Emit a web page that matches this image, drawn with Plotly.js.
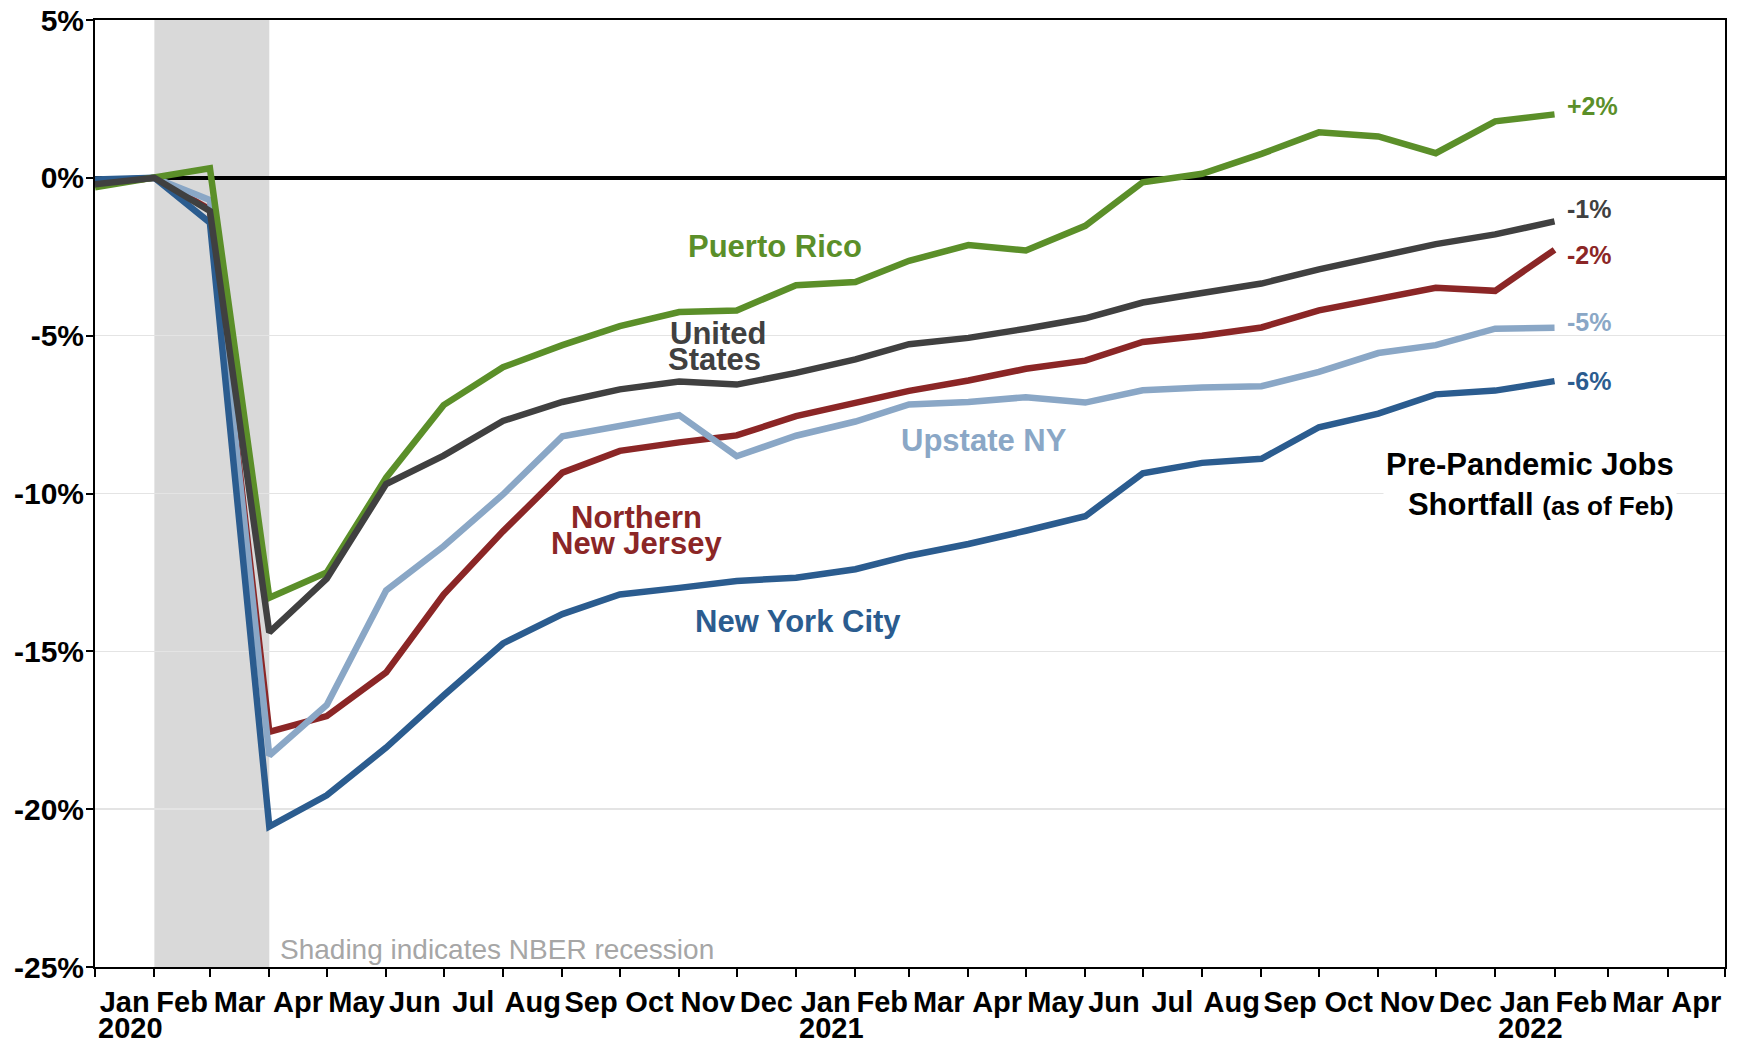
<!DOCTYPE html>
<html><head><meta charset="utf-8">
<script src="https://cdn.plot.ly/plotly-3.0.1.min.js"></script>
<style>html,body{margin:0;padding:0;background:#fff;} #chart{width:1739px;height:1043px;}</style>
</head><body><div id="chart"></div>
<script>
const months = ['2020-01-01','2020-02-01','2020-03-01','2020-04-01','2020-05-01','2020-06-01','2020-07-01','2020-08-01','2020-09-01','2020-10-01','2020-11-01','2020-12-01',
  '2021-01-01','2021-02-01','2021-03-01','2021-04-01','2021-05-01','2021-06-01','2021-07-01','2021-08-01','2021-09-01','2021-10-01','2021-11-01','2021-12-01',
  '2022-01-01','2022-02-01'];
const puertoRico   = [-0.3, 0, 0.3, -13.3, -12.5, -9.5, -7.2, -6.0, -5.3, -4.7, -4.25, -4.2, -3.4, -3.3, -2.63, -2.13, -2.3, -1.52, -0.14, 0.13, 0.76, 1.44, 1.31, 0.78, 1.79, 2.01];
const unitedStates = [-0.2, 0, -1.05, -14.4, -12.7, -9.7, -8.8, -7.7, -7.1, -6.7, -6.45, -6.55, -6.18, -5.75, -5.27, -5.07, -4.78, -4.45, -3.95, -3.63, -3.35, -2.9, -2.47, -2.1, -1.79, -1.38];
const northernNJ   = [-0.2, 0, -1.0, -17.55, -17.05, -15.67, -13.2, -11.2, -9.34, -8.65, -8.38, -8.16, -7.55, -7.12, -6.75, -6.42, -6.05, -5.79, -5.2, -5.0, -4.74, -4.2, -3.83, -3.48, -3.58, -2.28];
const upstateNY    = [-0.1, 0, -0.7, -18.3, -16.7, -13.07, -11.67, -10.03, -8.19, -7.84, -7.52, -8.82, -8.17, -7.72, -7.18, -7.1, -6.95, -7.12, -6.73, -6.64, -6.6, -6.15, -5.55, -5.3, -4.78, -4.75];
const newYorkCity  = [-0.05, 0, -1.42, -20.55, -19.56, -18.05, -16.4, -14.75, -13.82, -13.2, -12.99, -12.77, -12.67, -12.4, -11.97, -11.6, -11.18, -10.72, -9.36, -9.03, -8.9, -7.9, -7.47, -6.86, -6.74, -6.44];

const seriesNames = ['Northern New Jersey','Upstate NY','New York City','Puerto Rico','United States'];
const endLabels = ['-2%','-5%','-6%','+2%','-1%'];
const yTickVals = [-25,-20,-15,-10,-5,0,5];
const yTickText = ['-25%','-20%','-15%','-10%','-5%','0%','5%'];
const yearLabels = ['2020','2021','2022'];
const yearPositions = ['2020-01-16','2021-01-16','2022-01-16'];
const recession = ['2020-02-01','2020-04-01'];

const C = {green:'#5b8f29', gray:'#404040', red:'#8b2626', lblue:'#8aa7c6', blue:'#2b5c8f'};
const FONT = 'Liberation Sans, Arial, sans-serif';

function mdate(idx){
  const m = Math.floor(idx), f = idx - m;
  const s = Date.UTC(2020, m, 1), e = Date.UTC(2020, m+1, 1);
  return new Date(s + f*(e-s)).toISOString().slice(0,19).replace('T',' ');
}

const seriesVals = [northernNJ, upstateNY, newYorkCity, puertoRico, unitedStates];
const seriesCols = [C.red, C.lblue, C.blue, C.green, C.gray];
const traces = seriesVals.map((v,i)=>({
  type:'scatter', mode:'lines', x:months, y:v, name:seriesNames[i],
  line:{color:seriesCols[i], width:6.5}, hoverinfo:'x+y+name'
}));

function lab(text, idx, y, color, size, extra){
  return Object.assign({x:mdate(idx), y:y, xref:'x', yref:'y', text:text, showarrow:false,
    xanchor:'center', yanchor:'middle', font:{family:FONT, size:size, color:color, weight:'bold'}}, extra||{});
}

const endY = [-2.46, -4.57, -6.43, 2.28, -0.98];
const annotations = [
  lab('Puerto Rico', 11.65, -2.18, C.green, 31),
  lab('United', 10.67, -4.92, C.gray, 31),
  lab('States', 10.62, -5.76, C.gray, 31),
  lab('Northern', 9.28, -10.75, C.red, 31),
  lab('New Jersey', 9.28, -11.59, C.red, 31),
  lab('Upstate NY', 15.27, -8.32, C.lblue, 31),
  lab('New York City', 12.03, -14.05, C.blue, 31),
  lab('Pre-Pandemic Jobs<br>Shortfall <span style="font-size:26px">(as of Feb)</span>', 27.17, -9.72, '#000', 31,
      {xanchor:'right', align:'right', bgcolor:'#ffffff', borderpad:2}),
  lab('Shading indicates NBER recession', 3.16, -24.45, '#a6a6a6', 28, {xanchor:'left'})
];
annotations[annotations.length-1].font.weight = 'normal';
endLabels.forEach((t,i)=>annotations.push(lab(t, 25.2, endY[i], seriesCols[i], 25, {xanchor:'left'})));
yearLabels.forEach((t,i)=>annotations.push({x:yearPositions[i], xref:'x', y:0, yref:'paper', yanchor:'middle', yshift:-61, xshift:7,
  text:t, showarrow:false, font:{family:FONT, size:29, color:'#000', weight:'bold'}}));

const layout = {
  width:1739, height:1043,
  margin:{l:95, r:14, t:20, b:76, pad:0},
  paper_bgcolor:'#fff', plot_bgcolor:'#fff', showlegend:false,
  font:{family:FONT, color:'#000'},
  xaxis:{type:'date', range:['2020-01-01','2022-05-01'], dtick:'M1', tick0:'2020-01-01', tickformat:'%b',
    ticklabelmode:'period', ticks:'outside', ticklen:8, tickwidth:2, tickcolor:'#000',
    showline:true, linecolor:'#000', linewidth:2, mirror:true, showgrid:false, zeroline:false,
    tickfont:{family:FONT, size:29, color:'#000', weight:'bold'}, ticklabelstandoff:0},
  yaxis:{range:[-25,5], tickmode:'array', tickvals:yTickVals, ticktext:yTickText,
    ticks:'outside', ticklen:7, tickwidth:2, tickcolor:'#000',
    showline:true, linecolor:'#000', linewidth:2, mirror:true,
    showgrid:true, gridcolor:'#e4e4e4', gridwidth:1.5,
    zeroline:true, zerolinecolor:'#000', zerolinewidth:3.5,
    tickfont:{family:FONT, size:30, color:'#000', weight:'bold'}, ticklabelstandoff:-4},
  shapes:[
    {type:'rect', xref:'x', yref:'paper', x0:recession[0], x1:recession[1], y0:0, y1:1, fillcolor:'#d9d9d9', line:{width:0}, layer:'below'}
  ],
  annotations:annotations
};
Plotly.newPlot('chart', traces, layout, {displayModeBar:false, staticPlot:true});
</script></body></html>
